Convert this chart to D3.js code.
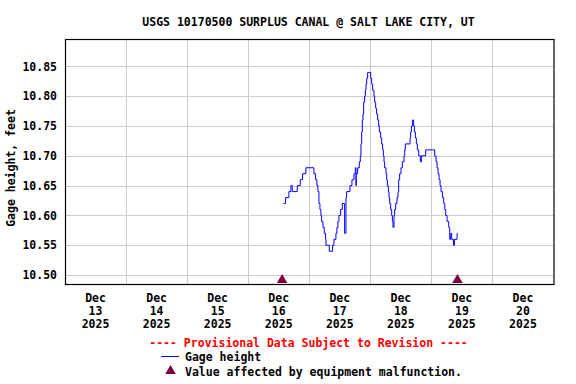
<!DOCTYPE html>
<html>
<head>
<meta charset="utf-8">
<script src="https://cdn.jsdelivr.net/npm/d3@7"></script>
<style>
  body { margin: 0; background: #fff; }
  text { font-family: "DejaVu Sans Mono", monospace; font-weight: bold; font-size: 11.5px; }
</style>
</head>
<body>
<div id="chart"></div>
<script>

var title = "USGS 10170500 SURPLUS CANAL @ SALT LAKE CITY, UT";
var yLabel = "Gage height, feet";
var yTicks = [10.50, 10.55, 10.60, 10.65, 10.70, 10.75, 10.80, 10.85];
var dayTicks = ["2025-12-13", "2025-12-14", "2025-12-15", "2025-12-16",
                "2025-12-17", "2025-12-18", "2025-12-19", "2025-12-20"];

var gageTimes = [
  "2025-12-16 13:54", "2025-12-16 14:41", "2025-12-16 16:00", "2025-12-16 16:47", "2025-12-16 17:19",
  "2025-12-16 19:17", "2025-12-16 20:28", "2025-12-16 21:23", "2025-12-16 22:41", "2025-12-17 01:50",
  "2025-12-17 02:29", "2025-12-17 03:01", "2025-12-17 03:25", "2025-12-17 03:48", "2025-12-17 04:12",
  "2025-12-17 04:35", "2025-12-17 04:51", "2025-12-17 05:23", "2025-12-17 05:54", "2025-12-17 06:26",
  "2025-12-17 06:34", "2025-12-17 07:52", "2025-12-17 09:11", "2025-12-17 09:42", "2025-12-17 10:29",
  "2025-12-17 10:53", "2025-12-17 11:17", "2025-12-17 11:40", "2025-12-17 12:20", "2025-12-17 12:59",
  "2025-12-17 13:54", "2025-12-17 14:26", "2025-12-17 14:41", "2025-12-17 16:00", "2025-12-17 16:47",
  "2025-12-17 17:35", "2025-12-17 18:06", "2025-12-17 18:22", "2025-12-17 18:29", "2025-12-17 19:01",
  "2025-12-17 19:40", "2025-12-17 20:04", "2025-12-17 20:20", "2025-12-17 20:36", "2025-12-17 20:51",
  "2025-12-17 21:07", "2025-12-17 21:23", "2025-12-17 21:46", "2025-12-17 22:02", "2025-12-17 22:18",
  "2025-12-17 22:34", "2025-12-17 22:57", "2025-12-18 00:08", "2025-12-18 00:32", "2025-12-18 00:55",
  "2025-12-18 01:26", "2025-12-18 01:42", "2025-12-18 02:06", "2025-12-18 02:29", "2025-12-18 02:53",
  "2025-12-18 03:17", "2025-12-18 03:32", "2025-12-18 04:04", "2025-12-18 04:28", "2025-12-18 04:51",
  "2025-12-18 05:07", "2025-12-18 05:23", "2025-12-18 05:38", "2025-12-18 06:10", "2025-12-18 06:26",
  "2025-12-18 06:41", "2025-12-18 07:05", "2025-12-18 07:21", "2025-12-18 07:37", "2025-12-18 08:00",
  "2025-12-18 08:24", "2025-12-18 08:40", "2025-12-18 08:55", "2025-12-18 09:19", "2025-12-18 09:34",
  "2025-12-18 09:58", "2025-12-18 10:29", "2025-12-18 10:53", "2025-12-18 11:09", "2025-12-18 11:32",
  "2025-12-18 12:04", "2025-12-18 12:35", "2025-12-18 13:15", "2025-12-18 13:31", "2025-12-18 13:46",
  "2025-12-18 15:37", "2025-12-18 15:52", "2025-12-18 16:08", "2025-12-18 16:32", "2025-12-18 17:03",
  "2025-12-18 17:19", "2025-12-18 17:43", "2025-12-18 18:06", "2025-12-18 18:29", "2025-12-18 19:01",
  "2025-12-18 19:40", "2025-12-18 20:04", "2025-12-18 21:46", "2025-12-19 01:19", "2025-12-19 01:50",
  "2025-12-19 02:14", "2025-12-19 02:37", "2025-12-19 03:01", "2025-12-19 03:25", "2025-12-19 03:48",
  "2025-12-19 04:20", "2025-12-19 04:51", "2025-12-19 05:15", "2025-12-19 05:38", "2025-12-19 06:10",
  "2025-12-19 06:49", "2025-12-19 07:13", "2025-12-19 07:37", "2025-12-19 08:00", "2025-12-19 08:40",
  "2025-12-19 09:03", "2025-12-19 10:06", "2025-12-19 10:22"
];

var gageValues = [
  10.62, 10.63, 10.64, 10.65, 10.64, 10.65, 10.66, 10.67, 10.68, 10.67,
  10.66, 10.65, 10.64, 10.62, 10.61, 10.60, 10.59, 10.58, 10.57, 10.56,
  10.55, 10.54, 10.55, 10.56, 10.57, 10.58, 10.59, 10.60, 10.61, 10.62,
  10.57, 10.63, 10.64, 10.65, 10.66, 10.67, 10.68, 10.65, 10.67, 10.68,
  10.69, 10.70, 10.72, 10.74, 10.76, 10.77, 10.79, 10.80, 10.81, 10.82,
  10.83, 10.84, 10.83, 10.82, 10.81, 10.80, 10.79, 10.78, 10.77, 10.76,
  10.75, 10.74, 10.73, 10.72, 10.71, 10.70, 10.69, 10.68, 10.67, 10.66,
  10.65, 10.64, 10.63, 10.62, 10.61, 10.60, 10.59, 10.58, 10.60, 10.61,
  10.62, 10.63, 10.64, 10.66, 10.67, 10.68, 10.69, 10.70, 10.71, 10.72,
  10.73, 10.74, 10.75, 10.76, 10.75, 10.74, 10.73, 10.72, 10.71, 10.70,
  10.69, 10.70, 10.71, 10.70, 10.69, 10.68, 10.67, 10.66, 10.65, 10.64,
  10.63, 10.62, 10.61, 10.60, 10.59, 10.58, 10.56, 10.57, 10.56, 10.55,
  10.56, 10.57, 10.57
];

// equipment malfunction flags
var flagTimes = ["2025-12-16 13:20", "2025-12-19 10:15"];

var parseTime = d3.timeParse("%Y-%m-%d %H:%M");
var parseDay = d3.timeParse("%Y-%m-%d");
var fmtMon = d3.timeFormat("%b"), fmtDay = d3.timeFormat("%d"), fmtYear = d3.timeFormat("%Y");

var width = 576, height = 384;
var margin = { top: 39, right: 22, bottom: 100, left: 65 };

var svg = d3.select("#chart").append("svg")
    .attr("width", width)
    .attr("height", height);

var x = d3.scaleTime()
    .domain([parseDay("2025-12-13"), parseDay("2025-12-21")])
    .range([margin.left, width - margin.right - 0.5]);

var y = d3.scaleLinear()
    .domain([10.485, 10.896])
    .range([height - margin.bottom, margin.top]);

var data = gageTimes.map(function (t, i) {
  return { date: parseTime(t), value: gageValues[i] };
});

// title
svg.append("text")
    .attr("x", 308.5)
    .attr("y", 26)
    .attr("text-anchor", "middle")
    .text(title);

// grid
var grid = svg.append("g").attr("stroke", "#cccccc").attr("stroke-width", 1);

grid.selectAll("line.h")
    .data(yTicks)
    .enter().append("line")
    .attr("class", "h")
    .attr("x1", x.range()[0]).attr("x2", x.range()[1])
    .attr("y1", function (d) { return Math.round(y(d)) + 0.5; })
    .attr("y2", function (d) { return Math.round(y(d)) + 0.5; });

grid.selectAll("line.v")
    .data(dayTicks.slice(1))
    .enter().append("line")
    .attr("class", "v")
    .attr("y1", y.range()[1]).attr("y2", y.range()[0])
    .attr("x1", function (d) { return Math.round(x(parseDay(d))) + 0.5; })
    .attr("x2", function (d) { return Math.round(x(parseDay(d))) + 0.5; });

// y tick labels
svg.selectAll("text.ytick")
    .data(yTicks)
    .enter().append("text")
    .attr("class", "ytick")
    .attr("x", 57)
    .attr("y", function (d) { return y(d); })
    .attr("dy", "0.36em")
    .attr("text-anchor", "end")
    .text(function (d) { return d.toFixed(2); });

svg.append("text")
    .attr("transform", "translate(15,168) rotate(-90)")
    .attr("text-anchor", "middle")
    .text(yLabel);

// x tick labels, centered on each day
var xl = svg.selectAll("text.xtick")
    .data(dayTicks)
    .enter().append("text")
    .attr("class", "xtick")
    .attr("text-anchor", "middle");

xl.each(function (d) {
  var day = parseDay(d);
  var cx = x(d3.timeHour.offset(day, 12));
  var t = d3.select(this);
  [fmtMon(day), fmtDay(day), fmtYear(day)].forEach(function (s, k) {
    t.append("tspan").attr("x", cx).attr("y", 302 + k * 13).text(s);
  });
});

// data line
var line = d3.line()
    .curve(d3.curveStepAfter)
    .x(function (d) { return x(d.date); })
    .y(function (d) { return y(d.value); });

svg.append("path")
    .datum(data)
    .attr("fill", "none")
    .attr("stroke", "#0000ff")
    .attr("stroke-width", 1)
    .attr("d", line);

// malfunction markers
var tri = d3.symbol().type(d3.symbolTriangle).size(48);

svg.selectAll("path.flag")
    .data(flagTimes)
    .enter().append("path")
    .attr("class", "flag")
    .attr("fill", "#7f0040")
    .attr("d", tri)
    .attr("transform", function (d) {
      return "translate(" + x(parseTime(d)) + "," + (y.range()[0] - 4) + ")";
    });

// plot frame
svg.append("rect")
    .attr("x", x.range()[0] + 0.5)
    .attr("y", y.range()[1] + 0.5)
    .attr("width", x.range()[1] - x.range()[0])
    .attr("height", y.range()[0] - y.range()[1])
    .attr("fill", "none")
    .attr("stroke", "#000")
    .attr("stroke-width", 1.2);

// legend
svg.append("text")
    .attr("x", 308.5)
    .attr("y", 346.5)
    .attr("text-anchor", "middle")
    .attr("fill", "#ff0000")
    .text("---- Provisional Data Subject to Revision ----");

svg.append("line")
    .attr("x1", 161).attr("x2", 179)
    .attr("y1", 356.5).attr("y2", 356.5)
    .attr("stroke", "#0000ff");

svg.append("text")
    .attr("x", 185)
    .attr("y", 361)
    .text("Gage height");

svg.append("path")
    .attr("fill", "#7f0040")
    .attr("d", tri)
    .attr("transform", "translate(170.5,371)");

svg.append("text")
    .attr("x", 185)
    .attr("y", 376)
    .text("Value affected by equipment malfunction.");

</script>
</body>
</html>
